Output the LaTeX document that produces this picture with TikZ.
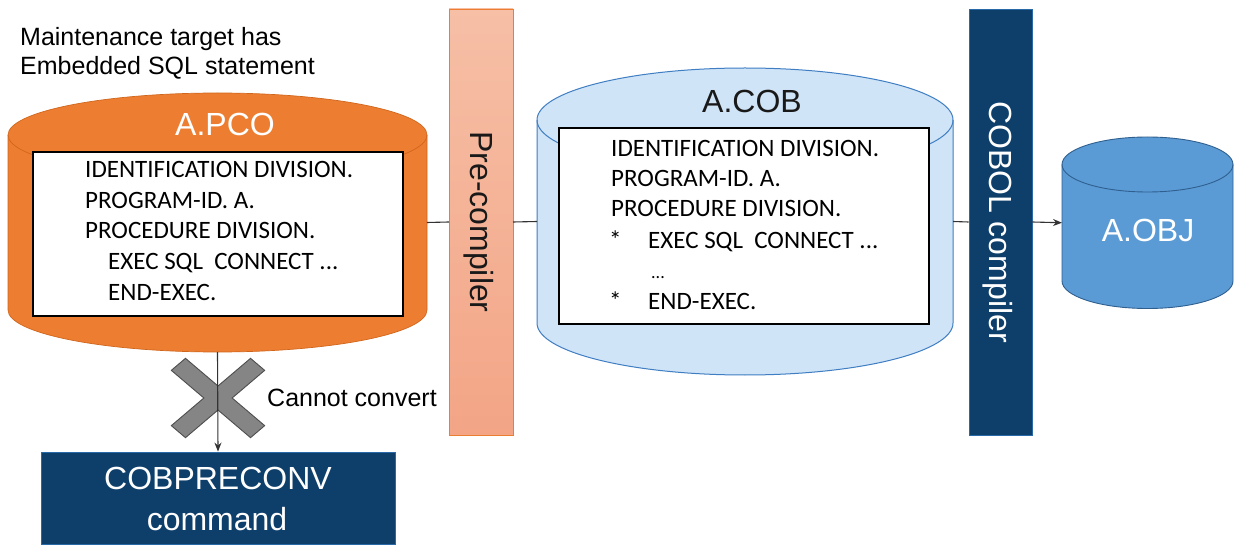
\documentclass[tikz,border=0pt]{standalone}
\usepackage{fontspec}
\setmainfont{Liberation Sans}
\newfontfamily\codefont{Carlito}
\usetikzlibrary{arrows.meta}
\definecolor{pcoorange}{HTML}{ED7D31}
\definecolor{pcoedge}{HTML}{D0661C}
\definecolor{pretop}{HTML}{F6BFA6}
\definecolor{prebot}{HTML}{F3A586}
\definecolor{cobfill}{HTML}{D0E4F7}
\definecolor{cobedge}{HTML}{3F7EC2}
\definecolor{objfill}{HTML}{5B9BD5}
\definecolor{objedge}{HTML}{2F5F8F}
\definecolor{navy}{HTML}{0E3F6B}
\definecolor{navyedge}{HTML}{2A69A8}
\definecolor{xfill}{HTML}{858585}
\definecolor{xedge}{HTML}{4D4D4D}
\definecolor{conn}{HTML}{333333}
\begin{document}
\begin{tikzpicture}[x=1pt,y=1pt,
  bigtxt/.style={font=\fontsize{32}{38}\selectfont},
  midtxt/.style={font=\fontsize{25}{30}\selectfont},
  codetxt/.style={font=\codefont\fontsize{25}{30}\selectfont, anchor=base west, inner sep=0pt, text=black},
  hold/.style={draw=none, inner sep=0pt, outer sep=0pt},
  codebox/.style={draw=black, line width=1.4pt, fill=white, inner sep=0pt},
  navybox/.style={fill=navy, draw=navyedge, line width=0.8pt, inner sep=0pt},
  conline/.style={draw=conn, line width=1.1pt},
  conarrow/.style={conline, -{Stealth[length=9pt,width=7pt]}}
]
\useasboundingbox[fill=white] (0,0) rectangle (1245,-545);

% ---------- title ----------
\node[midtxt, anchor=base west, inner sep=0pt] (t1) at (20,-46) {Maintenance target has};
\node[midtxt, anchor=base west, inner sep=0pt] (t2) at (20,-75) {Embedded SQL statement};

% ---------- A.PCO cylinder ----------
\path[fill=pcoorange, draw=pcoedge, line width=0.7pt]
  (8,-135) -- (8,-310) arc[start angle=180,end angle=360,x radius=209.5pt,y radius=42pt]
  -- (427,-135) arc[start angle=0,end angle=180,x radius=209.5pt,y radius=42pt] -- cycle;
\draw[pcoedge, line width=0.7pt] (8,-135) arc[start angle=180,end angle=360,x radius=209.5pt,y radius=42pt];
\node[hold, minimum width=419pt, minimum height=259pt] (pco) at (217.5,-222.5) {};
\node[bigtxt, text=white, anchor=base, inner sep=0pt] (pcolabel) at (225,-136) {A.PCO};
\node[codebox, minimum width=370pt, minimum height=164pt] (pcobox) at (218,-234) {};
\node[codetxt] (p1) at (85,-178) {IDENTIFICATION DIVISION.};
\node[codetxt] (p2) at (85,-209) {PROGRAM-ID. A.};
\node[codetxt] (p3) at (85,-239) {PROCEDURE DIVISION.};
\node[codetxt] (p4) at (108,-270) {EXEC SQL\ \ CONNECT ...};
\node[codetxt] (p5) at (108,-301) {END-EXEC.};

% ---------- Pre-compiler bar ----------
\node[hold, draw=pcoorange, line width=0.9pt, top color=pretop, bottom color=prebot,
      minimum width=64pt, minimum height=426pt] (pre) at (481,-222) {};
\node[bigtxt, rotate=-90, anchor=base, inner sep=0pt, text=black!90] (pretxt) at (470,-222) {Pre-compiler};

% ---------- A.COB cylinder ----------
\path[fill=cobfill, draw=cobedge, line width=1pt]
  (537,-120) -- (537,-323) arc[start angle=180,end angle=360,x radius=208pt,y radius=52pt]
  -- (953,-120) arc[start angle=0,end angle=180,x radius=208pt,y radius=52pt] -- cycle;
\draw[cobedge, line width=1pt] (537,-120) arc[start angle=180,end angle=360,x radius=208pt,y radius=52pt];
\node[hold, minimum width=416pt, minimum height=307pt] (cob) at (745,-221.5) {};
\node[bigtxt, text=black!90, anchor=base, inner sep=0pt] (coblabel) at (752,-113) {A.COB};
\node[codebox, minimum width=370pt, minimum height=196pt] (cobbox) at (744,-226) {};
\node[codetxt] (c1) at (611,-157) {IDENTIFICATION DIVISION.};
\node[codetxt] (c2) at (611,-187) {PROGRAM-ID. A.};
\node[codetxt] (c3) at (611,-217) {PROCEDURE DIVISION.};
\node[codetxt] (c4a) at (609,-249) {*};
\node[codetxt] (c4) at (648,-249) {EXEC SQL\ \ CONNECT ...};
\node[codetxt, font=\codefont\fontsize{18}{20}\selectfont] (c5) at (651,-279) {...};
\node[codetxt] (c6a) at (609,-310) {*};
\node[codetxt] (c6) at (648,-310) {END-EXEC.};

% ---------- COBOL compiler bar ----------
\node[navybox, minimum width=63pt, minimum height=426pt] (cc) at (1000.5,-222) {};
\node[bigtxt, rotate=-90, anchor=base, inner sep=0pt, text=white] (cctxt) at (989,-222) {COBOL compiler};

% ---------- A.OBJ cylinder ----------
\path[fill=objfill, draw=objedge, line width=0.9pt]
  (1062,-164.5) -- (1062,-281) arc[start angle=180,end angle=360,x radius=85.5pt,y radius=27.5pt]
  -- (1233,-164.5) arc[start angle=0,end angle=180,x radius=85.5pt,y radius=27.5pt] -- cycle;
\draw[objedge, line width=0.9pt] (1062,-164.5) arc[start angle=180,end angle=360,x radius=85.5pt,y radius=27.5pt];
\node[hold, minimum width=171pt, minimum height=171.5pt] (obj) at (1147.5,-222.75) {};
\node[bigtxt, text=white, anchor=base, inner sep=0pt] (objlabel) at (1148,-242) {A.OBJ};

% ---------- COBPRECONV command ----------
\node[navybox, minimum width=354pt, minimum height=92pt] (cmd) at (218,-498) {};
\node[bigtxt, text=white, anchor=base, inner sep=0pt] (cmd1) at (218,-489) {COBPRECONV};
\node[bigtxt, text=white, anchor=base, inner sep=0pt] (cmd2) at (217,-530) {command};

% ---------- X mark ----------
\begin{scope}[shift={(218,-398)}, yscale=0.85, rotate=45]
  \path[fill=xfill, draw=xedge, line width=0.9pt]
    (10,10) -- (56,10) -- (56,-10) -- (10,-10) -- (10,-56) -- (-10,-56) -- (-10,-10)
    -- (-56,-10) -- (-56,10) -- (-10,10) -- (-10,56) -- (10,56) -- cycle;
\end{scope}
\node[midtxt, anchor=base west, inner sep=0pt] (cannot) at (267,-406) {Cannot convert};

% ---------- connectors ----------
\draw[conline] (pco.east) -- (pre.west);
\draw[conline] (pre.east) -- (cob.west);
\draw[conline] (cob.east) -- (cc.west);
\draw[conarrow] (cc.east) -- (obj.west);
\draw[conarrow] (pco.south) -- (cmd.north);
\end{tikzpicture}
\end{document}
